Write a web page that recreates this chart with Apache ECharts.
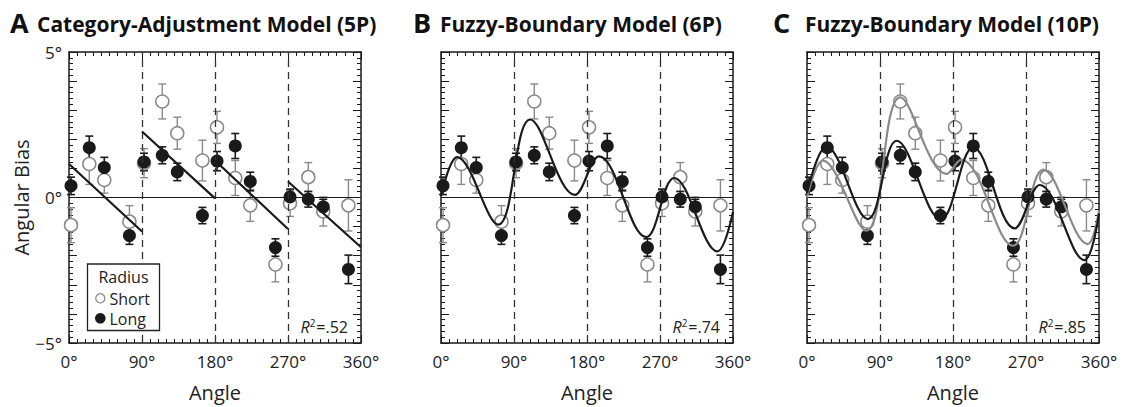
<!DOCTYPE html>
<html>
<head>
<meta charset="utf-8">
<title>Angular Bias</title>
<script src="https://cdn.jsdelivr.net/npm/echarts@6/dist/echarts.min.js"></script>
<style>
  html, body { margin: 0; padding: 0; background: #fff; }
  #chart { width: 1128px; height: 407px; }
</style>
</head>
<body>
<div id="chart"></div>
<script>
// stimulus angles (deg) and mean bias for the two radii
var angles = [2.5, 25, 43.5, 74.5, 92.5, 115, 133.5, 164.5, 182.5, 205, 223.5, 254.5, 272.5, 295, 313.5, 344.5];
var shortBias = [-0.95, 1.15, 0.6, -0.83, 1.18, 3.3, 2.21, 1.27, 2.41, 0.67, -0.27, -2.3, -0.2, 0.7, -0.48, -0.27];
var shortErr = [0.6, 0.7, 0.45, 0.55, 0.5, 0.6, 0.55, 0.7, 0.55, 0.6, 0.55, 0.6, 0.45, 0.5, 0.5, 0.88];
var longBias = [0.4, 1.71, 1.03, -1.31, 1.22, 1.45, 0.88, -0.62, 1.25, 1.77, 0.55, -1.72, 0.02, -0.06, -0.32, -2.47];
var longErr = [0.3, 0.4, 0.35, 0.3, 0.3, 0.29, 0.3, 0.28, 0.33, 0.43, 0.32, 0.3, 0.27, 0.27, 0.26, 0.49];

// A: category adjustment model, one straight segment per quadrant
var quadStart = [0, 90, 180, 270];
var quadEnd = [90, 180, 270, 360];
var catAdjStart = [1.15, 2.27, 1.27, 0.55];
var catAdjEnd = [-1.17, -0.03, -1.08, -1.71];

// B: fuzzy boundary 6P curve, end points and turning points
var fb6Angle = [0, 20, 70.5, 110, 165, 194.6, 253, 287.5, 340.7, 360];
var fb6Bias = [0.05, 1.39, -0.93, 2.68, 0.09, 1.41, -1.36, 0.67, -1.85, -0.5];

// C: fuzzy boundary 10P curves, long radius (black) and short radius (grey)
var fb10LongAngle = [0, 24, 75, 110.6, 165, 205, 256, 287, 342, 360];
var fb10LongBias = [0.15, 1.75, -0.74, 1.95, -0.75, 1.72, -1.06, 0.43, -2.15, -0.55];
var fb10ShortAngle = [0, 19.6, 73, 115, 172, 190, 254, 291.5, 346, 360];
var fb10ShortBias = [0.0, 1.27, -1.14, 3.44, 0.81, 1.3, -1.66, 0.96, -1.6, -0.45];

var panelTitles = ['Category-Adjustment Model (5P)', 'Fuzzy-Boundary Model (6P)', 'Fuzzy-Boundary Model (10P)'];
var panelLetters = ['A', 'B', 'C'];
var r2Labels = ['.52', '.74', '.85'];

var GREY = '#8a8a8a';
var BLACK = '#1a1a1a';
var FONT = 'Open Sans';
var gridLeft = [69, 441, 807];
var gridTop = 52, gridW = 292, gridH = 291;

var chart = echarts.init(document.getElementById('chart'), null, { renderer: 'svg' });

function zip(xs, ys) {
  return xs.map(function (x, i) { return [x, ys[i]]; });
}

function errorBars(vals, errs, color, width, g) {
  return {
    type: 'custom',
    xAxisIndex: g * 2,
    yAxisIndex: g * 2,
    z: 2,
    silent: true,
    encode: { x: 0, y: 1 },
    data: angles.map(function (a, i) { return [a, vals[i], errs[i]]; }),
    renderItem: function (params, api) {
      var x = api.value(0), y = api.value(1), e = api.value(2);
      var hi = api.coord([x, y + e]);
      var lo = api.coord([x, y - e]);
      var cap = 4;
      var st = { stroke: color, lineWidth: width };
      return {
        type: 'group',
        children: [
          { type: 'line', shape: { x1: hi[0], y1: hi[1], x2: lo[0], y2: lo[1] }, style: st },
          { type: 'line', shape: { x1: hi[0] - cap, y1: hi[1], x2: hi[0] + cap, y2: hi[1] }, style: st },
          { type: 'line', shape: { x1: lo[0] - cap, y1: lo[1], x2: lo[0] + cap, y2: lo[1] }, style: st }
        ]
      };
    }
  };
}

function fitLine(xs, ys, color, xi, z) {
  return {
    type: 'line', xAxisIndex: xi, yAxisIndex: xi, z: z, symbol: 'none', silent: true,
    smooth: 0.38,
    lineStyle: { color: color, width: 2.2 },
    data: zip(xs, ys)
  };
}

var grids = [], xAxes = [], yAxes = [], series = [], graphics = [];

for (var g = 0; g < 3; g++) {
  grids.push({ left: gridLeft[g], top: gridTop, width: gridW, height: gridH });

  ['bottom', 'top'].forEach(function (pos) {
    xAxes.push({
      gridIndex: g, type: 'value', position: pos, min: 0, max: 360, interval: 90,
      axisLine: { show: true, onZero: false, lineStyle: { color: BLACK, width: 1.5 } },
      axisTick: { show: true, inside: true, length: 8, lineStyle: { color: BLACK, width: 1 } },
      minorTick: { show: true, splitNumber: 9, length: 4, lineStyle: { color: BLACK, width: 1 } },
      splitLine: { show: false },
      axisLabel: {
        show: pos === 'bottom', margin: 10, color: '#222', fontFamily: FONT, fontSize: 17,
        formatter: function (v) { return v + '°'; }
      },
      name: pos === 'bottom' ? 'Angle' : '',
      nameLocation: 'middle', nameGap: 39,
      nameTextStyle: { color: '#222', fontFamily: FONT, fontSize: 20 }
    });
  });
  ['left', 'right'].forEach(function (pos) {
    var showLab = (g === 0 && pos === 'left');
    yAxes.push({
      gridIndex: g, type: 'value', position: pos, min: -5, max: 5, interval: 1,
      axisLine: { show: true, onZero: false, lineStyle: { color: BLACK, width: 1.5 } },
      axisTick: { show: true, inside: true, length: 8, lineStyle: { color: BLACK, width: 1 } },
      minorTick: { show: true, splitNumber: 5, length: 4, lineStyle: { color: BLACK, width: 1 } },
      splitLine: { show: false },
      axisLabel: {
        show: showLab, margin: 7, color: '#222', fontFamily: FONT, fontSize: 17,
        formatter: function (v) {
          if (v === 5) return '5°';
          if (v === 0) return '0°';
          if (v === -5) return '\u22125°';
          return '';
        }
      },
      name: showLab ? 'Angular Bias' : '',
      nameLocation: 'middle', nameGap: 38, nameRotate: 90,
      nameTextStyle: { color: '#222', fontFamily: FONT, fontSize: 20 }
    });
  });

  var xi = g * 2, yi = g * 2;

  // reference lines: zero bias and the cardinal boundaries
  series.push({
    type: 'line', xAxisIndex: xi, yAxisIndex: yi, data: [], silent: true, z: 1,
    markLine: {
      silent: true, symbol: 'none', label: { show: false },
      data: [
        { yAxis: 0, lineStyle: { type: 'solid', color: BLACK, width: 1.2 } },
        { xAxis: 90, lineStyle: { type: [7, 5], color: '#333', width: 1.3 } },
        { xAxis: 180, lineStyle: { type: [7, 5], color: '#333', width: 1.3 } },
        { xAxis: 270, lineStyle: { type: [7, 5], color: '#333', width: 1.3 } }
      ]
    }
  });

  series.push(errorBars(shortBias, shortErr, GREY, 1.4, g));
  series.push(errorBars(longBias, longErr, BLACK, 1.6, g));

  series.push({
    name: 'Short', type: 'scatter', xAxisIndex: xi, yAxisIndex: yi, z: 3,
    symbol: 'circle', symbolSize: 13,
    itemStyle: { color: '#fff', borderColor: GREY, borderWidth: 1.5, opacity: 1 },
    data: zip(angles, shortBias)
  });
  series.push({
    name: 'Long', type: 'scatter', xAxisIndex: xi, yAxisIndex: yi, z: 4,
    symbol: 'circle', symbolSize: 13,
    itemStyle: { color: BLACK, opacity: 1 },
    data: zip(angles, longBias)
  });

  // model fits
  if (g === 0) {
    for (var q = 0; q < 4; q++) {
      series.push({
        type: 'line', xAxisIndex: xi, yAxisIndex: yi, z: 5, symbol: 'none', silent: true,
        lineStyle: { color: BLACK, width: 2.2 },
        data: [[quadStart[q], catAdjStart[q]], [quadEnd[q], catAdjEnd[q]]]
      });
    }
  } else if (g === 1) {
    series.push(fitLine(fb6Angle, fb6Bias, BLACK, xi, 5));
  } else {
    series.push(fitLine(fb10ShortAngle, fb10ShortBias, GREY, xi, 5));
    series.push(fitLine(fb10LongAngle, fb10LongBias, BLACK, xi, 6));
  }
}

// panel titles and fit statistics
var letterX = [10, 413, 773];
var titleX = [37, 440, 805];
for (var p = 0; p < 3; p++) {
  graphics.push({
    type: 'text', x: letterX[p], y: 22,
    style: { text: panelLetters[p], fill: '#111', font: 'bold 27px "Open Sans"', verticalAlign: 'middle' }
  });
  graphics.push({
    type: 'text', x: titleX[p], y: 24,
    style: { text: panelTitles[p], fill: '#111', font: 'bold 21px "Open Sans"', verticalAlign: 'middle' }
  });
  graphics.push({
    type: 'text', x: gridLeft[p] + 279, y: 327,
    style: {
      text: '{i|R}{s|2}{n|=' + r2Labels[p] + '}',
      align: 'right', verticalAlign: 'middle',
      rich: {
        i: { fontFamily: FONT, fontStyle: 'italic', fontSize: 16, fill: '#222' },
        s: { fontFamily: FONT, fontSize: 10, fill: '#222', verticalAlign: 'top', padding: [0, 1, 8, 0] },
        n: { fontFamily: FONT, fontSize: 16, fill: '#222' }
      }
    }
  });
}

// legend box (panel A)
graphics.push({ type: 'rect', z: 20, shape: { x: 87.5, y: 264, width: 72, height: 66.5 }, style: { fill: '#fff', stroke: '#222', lineWidth: 1.3 } });
graphics.push({ type: 'text', z: 21, x: 123.5, y: 277, style: { text: 'Radius', align: 'center', verticalAlign: 'middle', fill: '#222', font: '16px "Open Sans"' } });
graphics.push({ type: 'circle', z: 21, shape: { cx: 100.3, cy: 298.3, r: 4.6 }, style: { fill: '#fff', stroke: GREY, lineWidth: 1.3 } });
graphics.push({ type: 'text', z: 21, x: 109.5, y: 298.5, style: { text: 'Short', verticalAlign: 'middle', fill: '#222', font: '16px "Open Sans"' } });
graphics.push({ type: 'circle', z: 21, shape: { cx: 100.3, cy: 318.3, r: 5.3 }, style: { fill: BLACK } });
graphics.push({ type: 'text', z: 21, x: 109.5, y: 318.5, style: { text: 'Long', verticalAlign: 'middle', fill: '#222', font: '16px "Open Sans"' } });

chart.setOption({
  backgroundColor: '#fff',
  animation: false,
  grid: grids,
  xAxis: xAxes,
  yAxis: yAxes,
  series: series,
  graphic: graphics
});
</script>
</body>
</html>
